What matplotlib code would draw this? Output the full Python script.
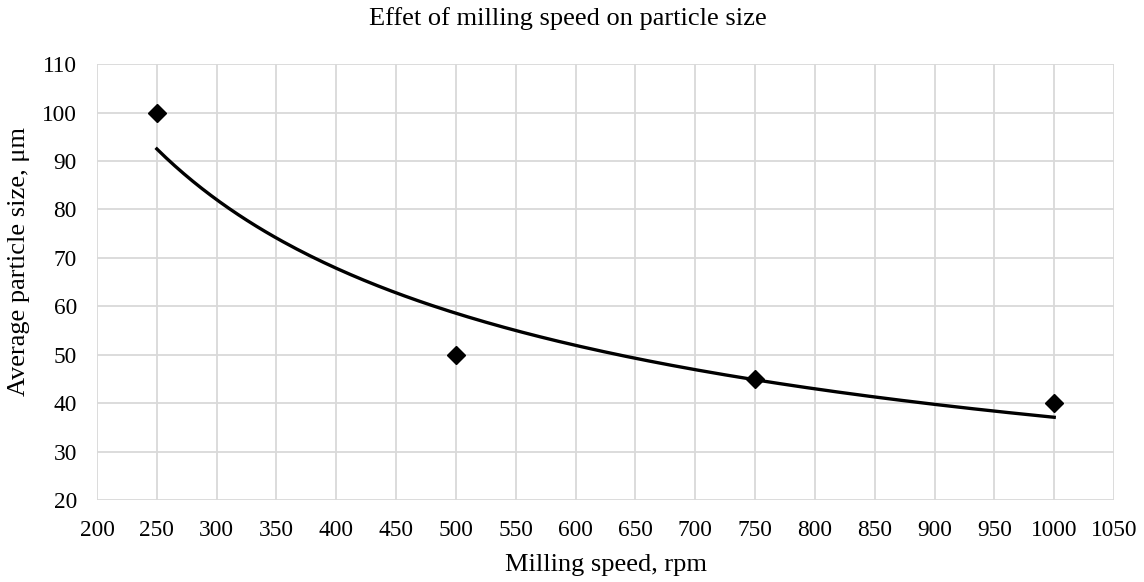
import numpy as np
import matplotlib
matplotlib.use('Agg')
import matplotlib.pyplot as plt

# measured data
speed = [250, 500, 750, 1000]          # rpm
size = [100, 50, 45, 40]               # um

# power trendline (Excel style): y = a * x^b
b, ln_a = np.polyfit(np.log(speed), np.log(size), 1)
x_fit = np.linspace(speed[0], speed[-1], 200)
y_fit = np.exp(ln_a) * x_fit**b

plt.rcParams['font.family'] = ['Liberation Serif', 'DejaVu Serif']

fig = plt.figure(figsize=(11.44, 5.82), dpi=100)
ax = fig.add_axes([0.0848, 0.1409, 0.889, 0.749])

ax.plot(x_fit, y_fit, color='black', lw=2.4, zorder=3)
ax.plot(speed, size, 'D', color='black', ms=9, zorder=4)

ax.set_xlim(200, 1050)
ax.set_ylim(20, 110)
ax.set_xticks(np.arange(200, 1051, 50))
ax.set_yticks(np.arange(20, 111, 10))
ax.grid(True, color='#d9d9d9', lw=1.3)
ax.set_axisbelow(True)
for s in ax.spines.values():
    s.set_visible(False)
ax.tick_params(length=0, labelsize=16.8, pad=14.5)

ax.set_xlabel('Milling speed, rpm', fontsize=19)
ax.xaxis.label.set_va('center')
ax.xaxis.set_label_coords(0.5, -0.149)
ax.set_ylabel('Average particle size, μm', fontsize=19)
ax.yaxis.label.set_va('center')
ax.yaxis.set_label_coords(-0.0767, 0.546)

fig.text(0.4965, 1 - 25 / 582, 'Effet of milling speed on particle size',
         fontsize=19, ha='center', va='baseline')

fig.savefig('out.png', dpi=100)
